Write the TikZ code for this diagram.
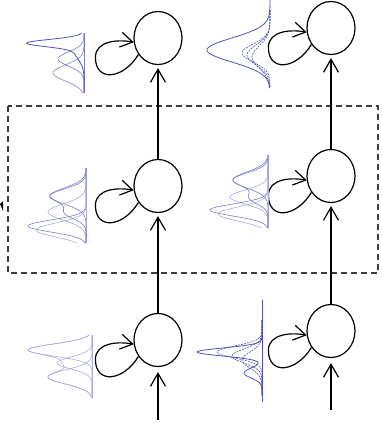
\documentclass[tikz,border=0pt]{standalone}
\usetikzlibrary{arrows.meta,shapes.geometric}
\definecolor{dblue}{RGB}{80,80,185}
\definecolor{mblue}{RGB}{125,125,205}
\definecolor{lblue}{RGB}{170,170,222}
\definecolor{boxgray}{RGB}{60,60,60}
\newcommand{\gsn}[3]{#1*exp(-0.5*((\t-#2)/#3)^2)}
\tikzset{
  cell/.style={draw, ellipse, line width=1.2pt, minimum width=48pt, minimum height=53pt, inner sep=0pt},
  flow/.style={line width=1.2pt, -{Straight Barb[length=13pt,width=15pt,line width=1.2pt]}},
  selfloop/.style={line width=1.2pt, -{Straight Barb[length=12pt,width=15pt,line width=1.2pt]}},
  envl/.style={dblue, line width=0.8pt},
  comp/.style={lblue, line width=0.6pt},
  dcomp/.style={dblue, line width=0.6pt, dash pattern=on 2pt off 1pt},
}
\begin{document}
\begin{tikzpicture}[x=1pt,y=-1pt]
\useasboundingbox (0,0) rectangle (381,429);
% dashed box
\draw[boxgray, line width=1.1pt, dash pattern=on 6pt off 4pt] (8,106) rectangle (378,273);
\fill[black] (0,204) -- (3,201) -- (3,211) -- cycle;
% cells
\node[cell] (tl) at (158,38) {};
\node[cell] (ml) at (158,186) {};
\node[cell] (bl) at (158,340) {};
\node[cell] (tr) at (331,28) {};
\node[cell] (mr) at (331,176) {};
\node[cell] (br) at (331,331) {};
\coordinate (inl) at (158,420);
\coordinate (inr) at (331,410);
% vertical flow
\draw[flow, shorten >=5pt] (inl) -- (bl.south);
\draw[flow, shorten >=3pt] (bl.north) -- (ml.south);
\draw[flow, shorten >=3pt] (ml.north) -- (tl.south);
\draw[flow, shorten >=5pt] (inr) -- (br.south);
\draw[flow, shorten >=3pt] (br.north) -- (mr.south);
\draw[flow, shorten >=3pt] (mr.north) -- (tr.south);
% self loops
\foreach \c in {tl,ml,bl,tr,mr,br}{
  \draw[selfloop] (\c.220) .. controls +(-15,25) and +(0,25) .. ++(-43,3)
        .. controls +(0,-17) and +(-15,-3) .. (\c.190);
}
% ---- distributions ----
% top left
\draw[mblue, line width=0.6pt] (84,33) -- (84,93);
\draw[comp, mblue] plot[domain=33:93, samples=90, variable=\t] ({84-\gsn{26}{59}{7}}, {\t});
\draw[comp, mblue] plot[domain=33:93, samples=90, variable=\t] ({84-\gsn{31}{73}{8}}, {\t});
\draw[envl] plot[domain=33:93, samples=120, variable=\t] ({84-\gsn{50}{43}{3.5}-\gsn{10}{50}{9}}, {\t});
% top right
\draw[dcomp] plot[domain=10:88, samples=90, variable=\t] ({270-\gsn{28}{53}{9}}, {\t});
\draw[dcomp] plot[domain=10:88, samples=90, variable=\t] ({270-\gsn{23}{55}{10}}, {\t});
\draw[dcomp] plot[domain=10:88, samples=90, variable=\t] ({270-\gsn{18}{57}{11}}, {\t});
\draw[envl] plot[domain=0:88, samples=120, variable=\t] ({270-\gsn{63}{50}{12}}, {\t});
% middle left
\draw[comp] (86,168) -- (86,243);
\draw[comp, mblue] plot[domain=168:243, samples=90, variable=\t] ({86-\gsn{36}{196}{8}}, {\t});
\draw[comp] plot[domain=168:243, samples=90, variable=\t] ({86-\gsn{38}{212}{8}}, {\t});
\draw[comp, mblue] plot[domain=168:243, samples=90, variable=\t] ({86-\gsn{58}{226}{6}}, {\t});
\draw[comp] plot[domain=168:243, samples=90, variable=\t] ({86-\gsn{50}{230}{7}}, {\t});
\draw[comp, mblue] plot[domain=168:243, samples=120, variable=\t] ({86-\gsn{36}{196}{7}-\gsn{20}{213}{6}}, {\t});
% middle right
\draw[comp] (268,155) -- (268,228);
\draw[comp, mblue] plot[domain=155:228, samples=90, variable=\t] ({268-\gsn{35}{180}{8}}, {\t});
\draw[comp] plot[domain=155:228, samples=90, variable=\t] ({268-\gsn{38}{197}{7}}, {\t});
\draw[comp, mblue] plot[domain=155:228, samples=90, variable=\t] ({268-\gsn{58}{210}{6}}, {\t});
\draw[comp] plot[domain=155:228, samples=90, variable=\t] ({268-\gsn{50}{214}{7}}, {\t});
\draw[comp, mblue] plot[domain=155:228, samples=120, variable=\t] ({268-\gsn{35}{180}{7}-\gsn{18}{198}{6}}, {\t});
% bottom left
\draw[comp] (92,335) -- (92,398);
\draw[comp] plot[domain=335:398, samples=90, variable=\t] ({92-\gsn{64}{350}{6}}, {\t});
\draw[comp] plot[domain=335:398, samples=90, variable=\t] ({92-\gsn{35}{363}{6}}, {\t});
\draw[comp] plot[domain=335:398, samples=90, variable=\t] ({92-\gsn{44}{377}{7}}, {\t});
\draw[comp] plot[domain=335:398, samples=120, variable=\t] ({92-\gsn{64}{350}{6}-\gsn{18}{363}{4}-\gsn{44}{377}{7}}, {\t});
% bottom right
\draw[dblue, line width=0.8pt] (262,300) -- (262,402);
\draw[dcomp] plot[domain=320:395, samples=90, variable=\t] ({262-\gsn{45}{352}{6}}, {\t});
\draw[dcomp] plot[domain=320:395, samples=90, variable=\t] ({262-\gsn{30}{356}{7}}, {\t});
\draw[dcomp] plot[domain=320:395, samples=90, variable=\t] ({262-\gsn{20}{360}{8}}, {\t});
\draw[envl] plot[domain=320:395, samples=140, variable=\t] ({262-\gsn{65}{352}{4}-\gsn{18}{373}{5}}, {\t});
\end{tikzpicture}
\end{document}
